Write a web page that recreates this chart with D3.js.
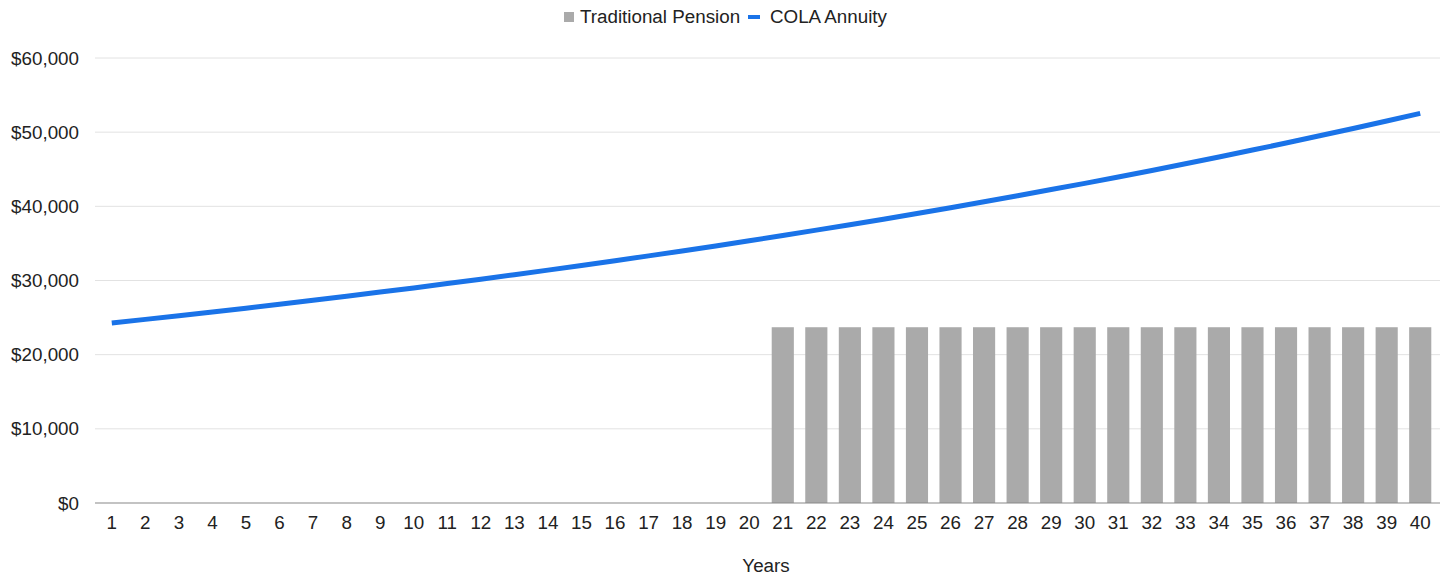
<!DOCTYPE html>
<html>
<head>
<meta charset="utf-8">
<script src="https://cdn.jsdelivr.net/npm/d3@7"></script>
<style>
  body { margin: 0; background: #fff; }
  svg { display: block; font-family: "Liberation Sans", Arial, sans-serif; }
</style>
</head>
<body>
<div id="chart"></div>
<script>
// years on the x axis
var years = d3.range(1, 41).map(String);

// Traditional pension only starts paying in year 21
var pension = [0,0,0,0,0,0,0,0,0,0, 0,0,0,0,0,0,0,0,0,0,
    23700,23700,23700,23700,23700,23700,23700,23700,23700,23700,
    23700,23700,23700,23700,23700,23700,23700,23700,23700,23700];

// COLA annuity payment by year
var cola = [24270,24760,25250,25760,26270,26800,27330,27880,28440,29000,
    29590,30180,30780,31400,32020,32660,33320,33980,34660,35360,
    36060,36790,37520,38270,39040,39820,40610,41430,42260,43100,
    43960,44840,45740,46650,47590,48540,49510,50500,51510,52540];

var yTicks = [0, 10000, 20000, 30000, 40000, 50000, 60000];

var width = 1445, height = 577;
var margin = { top: 58, right: 8, bottom: 74, left: 95 };
var fs = 18.8;

var svg = d3.select("#chart").append("svg")
    .attr("width", width)
    .attr("height", height);

var x = d3.scaleBand()
    .domain(years)
    .range([margin.left, width - margin.right])
    .paddingInner(0.34)
    .paddingOuter(0.17);

var y = d3.scaleLinear()
    .domain([0, 60000])
    .range([height - margin.bottom, margin.top]);

// gridlines
svg.append("g")
    .selectAll("line")
    .data(yTicks.slice(1))
    .join("line")
    .attr("x1", margin.left)
    .attr("x2", width - 5)
    .attr("y1", d => y(d))
    .attr("y2", d => y(d))
    .attr("stroke", "#e2e2e2")
    .attr("stroke-width", 1);

// y axis labels
var fmt = d3.format("$,.0f");
svg.append("g")
    .selectAll("text")
    .data(yTicks)
    .join("text")
    .attr("x", 79)
    .attr("y", d => y(d))
    .attr("dy", "0.35em")
    .attr("text-anchor", "end")
    .attr("font-size", fs)
    .attr("fill", "#222")
    .text(d => fmt(d));

// bars
svg.append("g")
    .selectAll("rect")
    .data(pension.map((v, i) => ({ year: years[i], value: v })).filter(d => d.value > 0))
    .join("rect")
    .attr("x", d => x(d.year))
    .attr("y", d => y(d.value))
    .attr("width", x.bandwidth())
    .attr("height", d => y(0) - y(d.value))
    .attr("fill", "#aaaaaa");

// baseline
svg.append("line")
    .attr("x1", margin.left)
    .attr("x2", width - 5)
    .attr("y1", y(0))
    .attr("y2", y(0))
    .attr("stroke", "#888")
    .attr("stroke-width", 1.2);

// x axis labels
var cx = d => x(d) + x.bandwidth() / 2;
svg.append("g")
    .selectAll("text")
    .data(years)
    .join("text")
    .attr("x", d => cx(d))
    .attr("y", 529)
    .attr("text-anchor", "middle")
    .attr("font-size", fs)
    .attr("fill", "#222")
    .text(d => d);

// COLA line
var line = d3.line()
    .x((d, i) => cx(years[i]))
    .y(d => y(d));

svg.append("path")
    .datum(cola)
    .attr("d", line)
    .attr("fill", "none")
    .attr("stroke", "#1a73e8")
    .attr("stroke-width", 5);

// x axis title
svg.append("text")
    .attr("x", 766)
    .attr("y", 572)
    .attr("text-anchor", "middle")
    .attr("font-size", fs)
    .attr("fill", "#222")
    .text("Years");

// legend
var legend = svg.append("g");
legend.append("rect")
    .attr("x", 564).attr("y", 12)
    .attr("width", 10).attr("height", 10)
    .attr("fill", "#aaaaaa");
legend.append("text")
    .attr("x", 580).attr("y", 23)
    .attr("font-size", fs).attr("fill", "#222")
    .text("Traditional Pension");
legend.append("rect")
    .attr("x", 748).attr("y", 15)
    .attr("width", 12).attr("height", 4)
    .attr("fill", "#1a73e8");
legend.append("text")
    .attr("x", 770).attr("y", 23)
    .attr("font-size", fs).attr("fill", "#222")
    .text("COLA Annuity");
</script>
</body>
</html>
